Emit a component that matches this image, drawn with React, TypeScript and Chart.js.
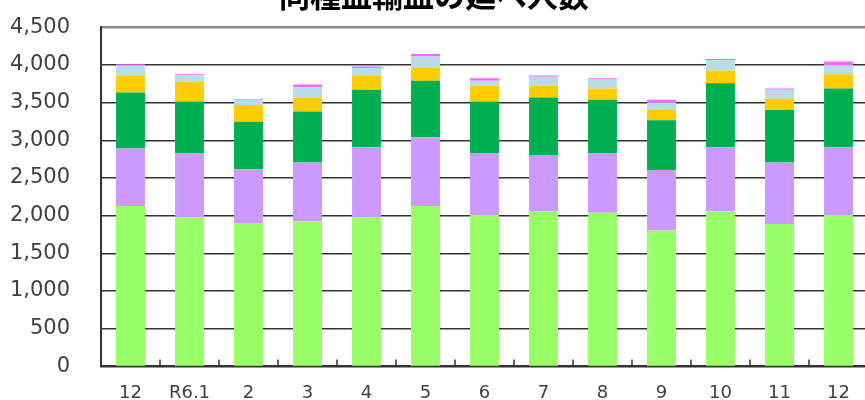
import React, { useEffect, useRef } from "react";
import { Chart, registerables } from "chart.js";

Chart.register(...registerables);

const TITLE = "同種血輸血の延べ人数";
const categories = ["12", "R6.1", "2", "3", "4", "5", "6", "7", "8", "9", "10", "11", "12"];

const series1 = [2128, 1974, 1903, 1921, 1974, 2128, 2009, 2057, 2040, 1802, 2057, 1890, 2009];
const series2 = [762, 850, 714, 784, 934, 912, 815, 749, 784, 802, 851, 815, 899];
const series3 = [744, 691, 630, 678, 762, 749, 691, 762, 713, 660, 850, 696, 779];
const series4 = [225, 260, 220, 185, 189, 171, 207, 154, 150, 137, 167, 150, 190];
const series5 = [132, 84, 70, 137, 97, 150, 67, 119, 119, 101, 137, 119, 119];
const series6 = [18, 18, 12, 35, 22, 35, 35, 18, 18, 35, 17, 17, 48];

const seriesNames = ["系列1", "系列2", "系列3", "系列4", "系列5", "系列6"];
const seriesColors = ["#99FF66", "#CC99FF", "#00B050", "#FFCC00", "#B7DEE8", "#FF66FF"];

const yMax = 4500;
const yStep = 500;

const innerTicks = {
  id: "innerTicks",
  afterDraw(chart: any) {
    const x = chart.scales.x;
    const area = chart.chartArea;
    const ctx = chart.ctx;
    ctx.save();
    ctx.strokeStyle = "#333333";
    ctx.lineWidth = 1.5;
    for (let i = 1; i < categories.length; i++) {
      const px = (x.getPixelForValue(i - 1) + x.getPixelForValue(i)) / 2;
      ctx.beginPath();
      ctx.moveTo(px, area.bottom - 7);
      ctx.lineTo(px, area.bottom);
      ctx.stroke();
    }
    ctx.restore();
  },
};

export default function App() {
  const ref = useRef<HTMLCanvasElement | null>(null);
  useEffect(() => {
    if (!ref.current) return;
    const data = [series1, series2, series3, series4, series5, series6];
    const chart = new Chart(ref.current, {
      type: "bar",
      data: {
        labels: categories,
        datasets: data.map((d, i) => ({
          label: seriesNames[i],
          data: d,
          backgroundColor: seriesColors[i],
          borderWidth: 0,
          categoryPercentage: 1,
          barPercentage: 0.49,
        })),
      },
      options: {
        responsive: false,
        animation: false,
        layout: { padding: { top: 0, right: 12, bottom: 0, left: 0 } },
        plugins: {
          legend: { display: false },
          tooltip: { enabled: false },
          title: {
            display: true,
            text: TITLE,
            color: "#000000",
            font: { family: "'Noto Sans CJK JP'", size: 31, weight: "bold" },
            padding: { top: 5, bottom: 13 },
          },
        },
        scales: {
          x: {
            stacked: true,
            grid: { display: false, drawTicks: false },
            border: { display: true, color: "#333333", width: 2 },
            ticks: {
              color: "#404040",
              font: { family: "'DejaVu Sans'", size: 18 },
              padding: 16,
              maxRotation: 0,
              autoSkip: false,
            },
          },
          y: {
            stacked: true,
            min: 0,
            max: yMax,
            afterFit(scale: any) {
              scale.width = 101;
            },
            grid: {
              drawTicks: false,
              color: (c: any) => (c.tick && c.tick.value === yMax ? "#8c8c8c" : "#333333"),
              lineWidth: (c: any) => (c.tick && c.tick.value === yMax ? 2.5 : 1.5),
            },
            border: { display: true, color: "#333333", width: 2 },
            ticks: {
              stepSize: yStep,
              color: "#404040",
              font: { family: "'DejaVu Sans'", size: 21 },
              padding: 31,
              callback: (v: any) => Number(v).toLocaleString("en-US"),
            },
          },
        },
      },
      plugins: [innerTicks],
    });
    return () => chart.destroy();
  }, []);
  return (
    <div style={{ position: "fixed", left: 0, top: 0, width: 865, height: 400, overflow: "hidden", background: "#fff" }}>
      <div style={{ position: "absolute", left: 0, top: -28, width: 880, height: 448 }}>
        <canvas ref={ref} width={880} height={448} style={{ width: 880, height: 448 }} />
      </div>
    </div>
  );
}
